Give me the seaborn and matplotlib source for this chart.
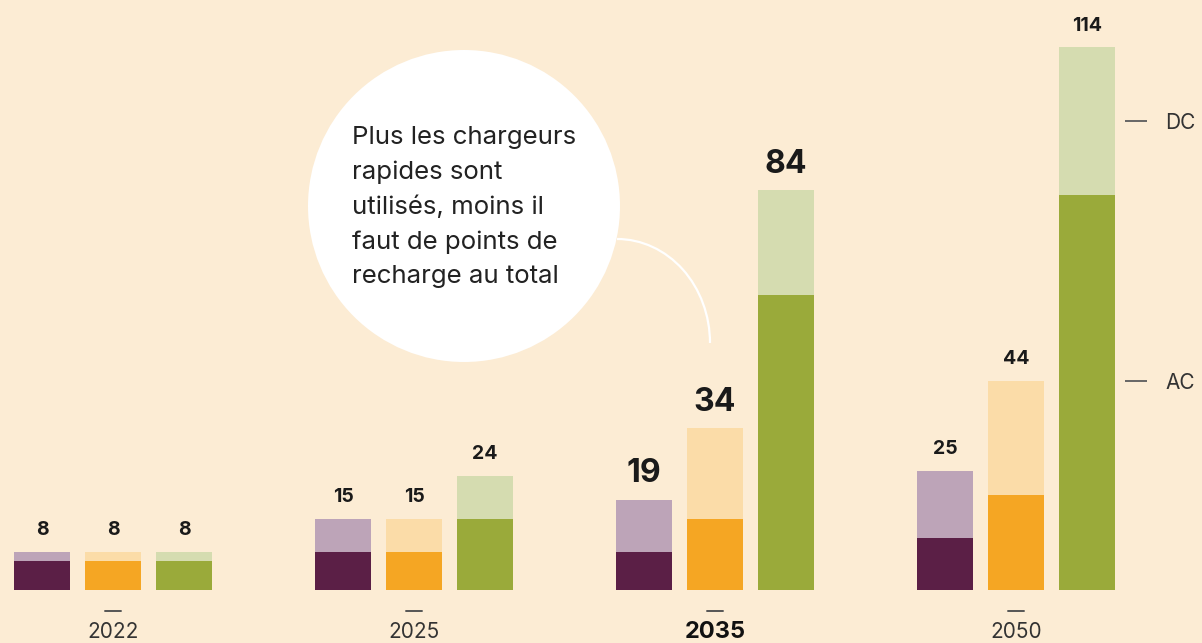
import matplotlib
matplotlib.use("Agg")
import matplotlib.pyplot as plt
from matplotlib.patches import Ellipse, Arc
import seaborn as sns
import pandas as pd
import numpy as np

# ---- data ----
years = ["2022", "2025", "2035", "2050"]
scenarios = ["Scénario 1", "Scénario 2", "Scénario 3"]
ac_s1 = [6, 8, 8, 11]
dc_s1 = [2, 7, 11, 14]
ac_s2 = [6, 8, 15, 20]
dc_s2 = [2, 7, 19, 24]
ac_s3 = [6, 15, 62, 83]
dc_s3 = [2, 9, 22, 31]
legend_labels = ["AC", "DC"]
legend_pos = [44, 98.5]
note = "Plus les chargeurs\nrapides sont\nutilisés, moins il\nfaut de points de\nrecharge au total"

dark = ["#5B1F46", "#F5A623", "#9AAA3A"]
light = ["#BDA4B8", "#FBDCA8", "#D5DCB0"]
bg = "#FCECD4"

rows = []
for s, ac, dc in zip(scenarios, [ac_s1, ac_s2, ac_s3], [dc_s1, dc_s2, dc_s3]):
    for y, a, d in zip(years, ac, dc):
        rows.append({"year": y, "scenario": s, "ac": a, "total": a + d})
df = pd.DataFrame(rows)

sns.set_style("white")
plt.rcParams["font.family"] = ["Inter", "DejaVu Sans"]

W, H = 1202, 643
fig = plt.figure(figsize=(W / 100, H / 100), dpi=100)
fig.patch.set_facecolor(bg)
ax = fig.add_axes([0, 53 / H, 1125 / W, 590 / H])
ax.set_facecolor("none")

sns.barplot(data=df, x="year", y="total", hue="scenario", order=years,
            hue_order=scenarios, palette=light, width=0.708, gap=0.2,
            saturation=1, ax=ax, legend=False, errorbar=None, linewidth=0)
n_tot = len(ax.containers)
sns.barplot(data=df, x="year", y="ac", hue="scenario", order=years,
            hue_order=scenarios, palette=dark, width=0.708, gap=0.2,
            saturation=1, ax=ax, legend=False, errorbar=None, linewidth=0)

ax.set_ylim(0, 590 / 4.76)
ax.set_xlim(-113 / 301, (1125 - 113) / 301)

# totals
for ci, cont in enumerate(ax.containers[:n_tot]):
    texts = ax.bar_label(cont, fmt="%d", padding=9, fontsize=14,
                         fontweight="bold", color="#1a1a1a")
    for j, t in enumerate(texts):
        if years[j] == "2035":
            t.set_fontsize(23)
            t.xyann = (0, 7.5)

# x labels
ax.set_xticks(range(len(years)))
ax.set_xticklabels(years)
ax.tick_params(axis="x", length=0, pad=30, labelsize=15, labelcolor="#333333")
for t in ax.get_xticklabels():
    t.set_verticalalignment("center")
    if t.get_text() == "2035":
        t.set_fontweight("bold")
        t.set_fontsize(17)
        t.set_color("#111111")
for i in range(len(years)):
    ax.plot([i - 0.025, i + 0.025], [-21 / 4.76] * 2, color="#555555", lw=1.4,
            clip_on=False)

# right legend ticks
ax.yaxis.set_ticks_position("right")
ax.set_yticks(legend_pos)
ax.set_yticklabels(legend_labels)
ax.tick_params(axis="y", direction="out", length=16, width=1.4, color="#666666",
               pad=13, labelsize=15, labelcolor="#333333")
ax.set_xlabel("")
ax.set_ylabel("")
for sp in ax.spines.values():
    sp.set_visible(False)

# callout bubble
cx, cy, r = 464, 206, 156
fig.add_artist(Ellipse((cx / W, 1 - cy / H), 2 * r / W, 2 * r / H,
                       transform=fig.transFigure, facecolor="white",
                       edgecolor="none", zorder=5))
fig.add_artist(Arc((617 / W, 1 - 343 / H), 2 * 93 / W, 2 * 104 / H,
                   theta1=0, theta2=90, transform=fig.transFigure,
                   color="white", lw=1.6, zorder=5))
fig.text(352 / W, 1 - 126 / H, note, ha="left", va="top", fontsize=18.6,
         color="#222222", linespacing=1.62, zorder=6)

fig.savefig("out.png", dpi=100, facecolor=bg)
